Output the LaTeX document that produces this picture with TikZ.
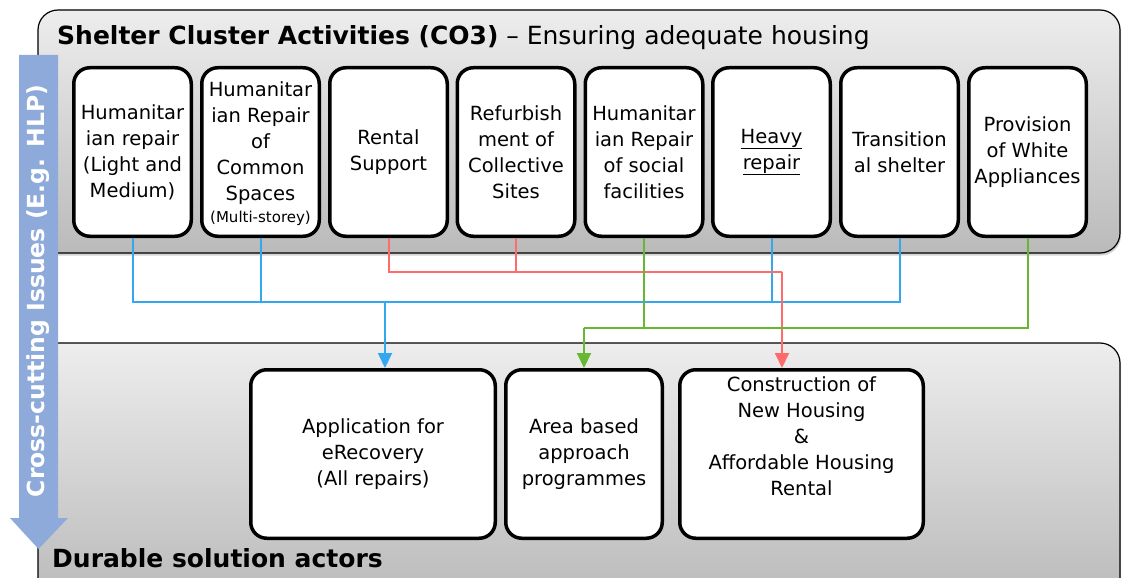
\documentclass[tikz,border=0pt]{standalone}
\usepackage{fontspec}
\setmainfont{DejaVu Sans}
\usetikzlibrary{shadows,arrows.meta}
\definecolor{cblue}{HTML}{33A8F0}
\definecolor{cred}{HTML}{FF6B6B}
\definecolor{cgreen}{HTML}{66B832}
\definecolor{arrowblue}{HTML}{8EAADB}
\begin{document}
\begin{tikzpicture}[x=1pt,y=-1pt,
  panel/.style={draw=black,line width=1.2pt,rounded corners=20pt,top color=black!7,bottom color=black!27,
    drop shadow={shadow xshift=1pt,shadow yshift=-2.5pt,opacity=0.35}},
  actbox/.style={draw=black,line width=3.5pt,fill=white,rounded corners=16pt,
    minimum width=117.5pt,minimum height=168.5pt,align=center,inner sep=0pt,
    font=\fontsize{19.5}{26}\selectfont},
  solbox/.style={actbox,minimum width=#1},
  conn/.style={line width=2pt},
  tip/.style={-{Triangle[length=15pt,width=14pt]}},
  boxtext/.style={align=center,inner sep=0pt,font=\fontsize{19.5}{26}\selectfont}
]
\useasboundingbox (0,0) rectangle (1122,578);

% panels
\path[panel] (38,10) rectangle (1120,253);
\path[panel] (38,343) rectangle (1120,600);

% activity boxes
\node[actbox] (b1) at (132.5,152) {Humanitar\\ian repair\\(Light and\\Medium)};
\node[actbox] (b2) at (260.5,152) {};
\node[boxtext] (b2Text) at (260.5,154) {Humanitar\\ian Repair\\of\\Common\\Spaces\\[-4pt]{\fontsize{15}{18}\selectfont(Multi-storey)}};
\node[actbox] (b3) at (388.5,152) {Rental\\Support};
\node[actbox] (b4) at (516,152) {Refurbish\\ment of\\Collective\\Sites};
\node[actbox] (b5) at (644,152) {Humanitar\\ian Repair\\of social\\facilities};
\node[actbox] (b6) at (771.5,152) {\underline{Heavy}\\\underline{repair}};
\node[actbox] (b7) at (899.5,152) {Transition\\al shelter};
\node[actbox] (b8) at (1027.5,152) {Provision\\of White\\Appliances};

% solution boxes
\node[solbox=244.5pt] (bA) at (373,454) {Application for\\eRecovery\\(All repairs)};
\node[solbox=156.5pt] (bB) at (584,454) {Area based\\approach\\programmes};
\node[solbox=243.5pt] (bC) at (801.5,454) {};
\node[boxtext] (cText) at (801.5,436) {Construction of\\New Housing\\\&\\Affordable Housing\\Rental};

% connectors: blue
\coordinate (blueA) at ([xshift=12pt]bA.north);
\draw[conn,cblue] (b1.south) |- (b7.south |- 0,302) -- (b7.south);
\draw[conn,cblue] (b2.south) -- (b2.south |- 0,302);
\draw[conn,cblue] (b6.south) -- (b6.south |- 0,302);
\draw[conn,cblue,tip] (blueA |- 0,302) -- (blueA);
% red
\coordinate (redC) at ([xshift=-19.5pt]bC.north);
\draw[conn,cred] (b3.south) |- (redC |- 0,272);
\draw[conn,cred] (b4.south) -- (b4.south |- 0,272);
\draw[conn,cred,tip] (redC |- 0,272) -- (redC);
% green
\draw[conn,cgreen] (b8.south) |- (bB.north |- 0,328);
\draw[conn,cgreen] (b5.south) -- (b5.south |- 0,328);
\draw[conn,cgreen,tip] (bB.north |- 0,328) -- (bB.north);

% titles
\node[anchor=base west,inner sep=0pt,font=\fontsize{25}{30}\selectfont] (topTitle) at (57,45)
  {\textbf{Shelter Cluster Activities (CO3)} – Ensuring adequate housing};

% cross-cutting arrow
\fill[arrowblue] (19,55) -- (58,55) -- (58,518) -- (68,518) -- (38.5,549) -- (10,518) -- (19,518) -- cycle;
\node[rotate=90,inner sep=0pt,text=white,font=\bfseries\fontsize{23.5}{28}\selectfont] (cross) at (38.5,291)
  {Cross-cutting Issues (E.g. HLP)};

\node[anchor=base west,inner sep=0pt,font=\bfseries\fontsize{25}{30}\selectfont] (botTitle) at (52,567)
  {Durable solution actors};
\end{tikzpicture}
\end{document}
